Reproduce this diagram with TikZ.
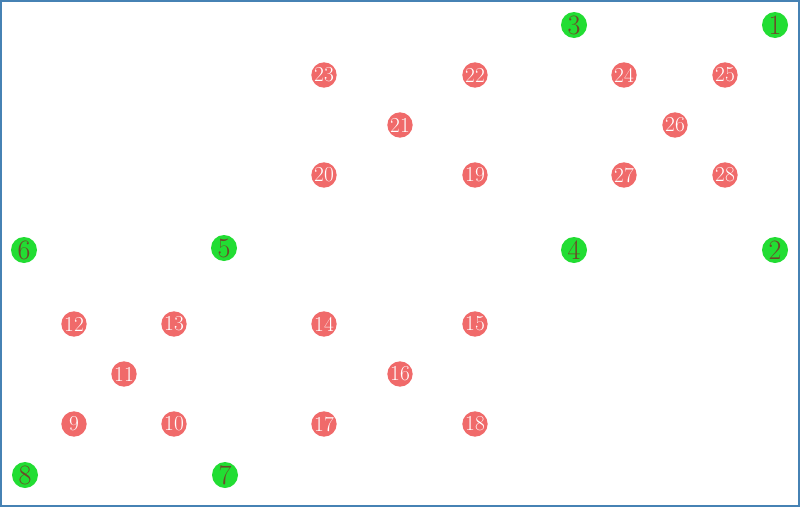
\documentclass[tikz,border=0pt]{standalone}
\definecolor{bordercol}{HTML}{4682B4}
\definecolor{gfill}{HTML}{22DD33}
\definecolor{gtext}{HTML}{6B4A2A}
\definecolor{rfill}{HTML}{F06A6A}
\begin{document}
\begin{tikzpicture}[x=0.75pt,y=-0.75pt,
  gnode/.style={circle,fill=gfill,minimum size=19.5pt,inner sep=0pt,text=gtext,font=\fontsize{21}{21}\selectfont},
  rnode/.style={circle,fill=rfill,minimum size=19pt,inner sep=0pt,text=white,font=\fontsize{16}{16}\selectfont}]
\useasboundingbox (0,0) rectangle (800,507);
\draw[bordercol,line width=1.5pt] (1,1) rectangle (799,506);
% green
\node[gnode] (n1) at (775,25) {1};
\node[gnode] (n2) at (775,250) {2};
\node[gnode] (n3) at (574,25) {3};
\node[gnode] (n4) at (574,250) {4};
\node[gnode] (n5) at (224,248) {5};
\node[gnode] (n6) at (24,250) {6};
\node[gnode] (n7) at (225,475) {7};
\node[gnode] (n8) at (25,475) {8};
% red
\node[rnode] (n9) at (74,424) {9};
\node[rnode] (n10) at (174,424) {10};
\node[rnode] (n11) at (124,374) {11};
\node[rnode] (n12) at (74,324) {12};
\node[rnode] (n13) at (174,324) {13};
\node[rnode] (n14) at (324,324) {14};
\node[rnode] (n15) at (475,324) {15};
\node[rnode] (n16) at (400,374) {16};
\node[rnode] (n17) at (324,424) {17};
\node[rnode] (n18) at (475,424) {18};
\node[rnode] (n19) at (475,175) {19};
\node[rnode] (n20) at (324,175) {20};
\node[rnode] (n21) at (400,125) {21};
\node[rnode] (n22) at (475,75) {22};
\node[rnode] (n23) at (324,75) {23};
\node[rnode] (n24) at (624,75) {24};
\node[rnode] (n25) at (725,75) {25};
\node[rnode] (n26) at (675,125) {26};
\node[rnode] (n27) at (624,175) {27};
\node[rnode] (n28) at (725,175) {28};
\end{tikzpicture}
\end{document}
